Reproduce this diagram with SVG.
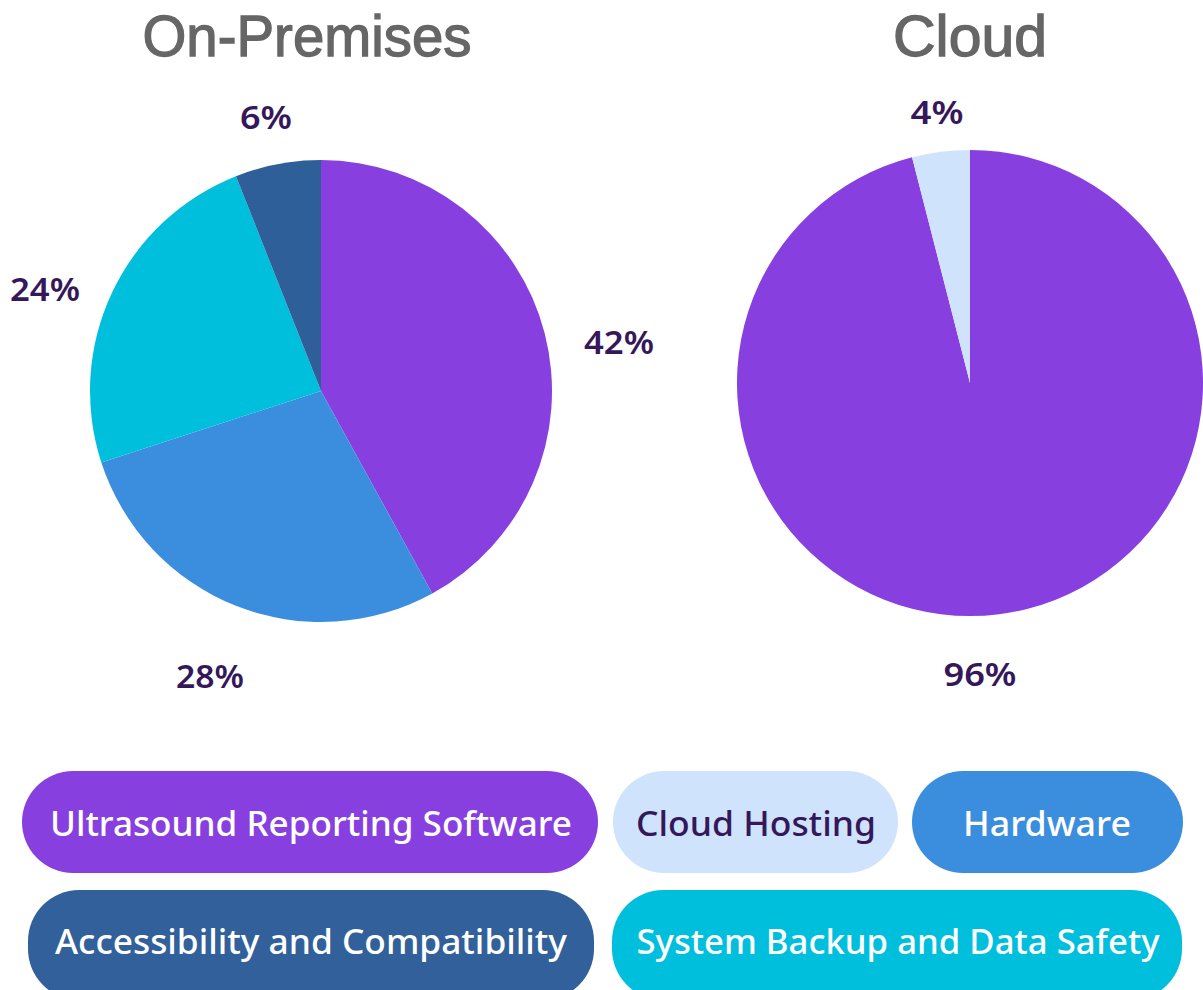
<svg xmlns="http://www.w3.org/2000/svg" width="1203" height="990" viewBox="0 0 1203 990">
<style>
.title{font-family:"Liberation Sans",Arial,sans-serif;font-weight:normal;font-size:57px;fill:#666666;stroke:#666666;stroke-width:1.3px;text-anchor:middle}
.pct{font-family:"Noto Sans","Open Sans",sans-serif;font-weight:600;font-size:32px;fill:#35185A;text-anchor:middle}
.leg{font-family:"Noto Sans","Open Sans",sans-serif;font-weight:500;font-size:34px;fill:#ffffff;text-anchor:middle}
.legd{fill:#35185A}
</style>
<rect width="1203" height="990" fill="#ffffff"/>
<g id="titles">
<text class="title" x="307" y="56" textLength="329" lengthAdjust="spacingAndGlyphs">On-Premises</text>
<text class="title" x="970" y="56" textLength="154" lengthAdjust="spacingAndGlyphs">Cloud</text>
</g>
<g id="pie-onprem">
<path d="M321,391 L321,160 A231,231 0 0 1 432.28,593.43 Z" fill="#8740DF"/>
<path d="M321,391 L432.28,593.43 A231,231 0 0 1 101.31,462.38 Z" fill="#3B8EDD"/>
<path d="M321,391 L101.31,462.38 A231,231 0 0 1 235.96,176.22 Z" fill="#00BFDD"/>
<path d="M321,391 L235.96,176.22 A231,231 0 0 1 321,160 Z" fill="#2F5F98"/>
<text class="pct" x="266" y="129" textLength="52" lengthAdjust="spacingAndGlyphs">6%</text>
<text class="pct" x="45" y="301" textLength="70" lengthAdjust="spacingAndGlyphs">24%</text>
<text class="pct" x="619" y="354" textLength="70" lengthAdjust="spacingAndGlyphs">42%</text>
<text class="pct" x="210" y="688" textLength="68" lengthAdjust="spacingAndGlyphs">28%</text>
</g>
<g id="pie-cloud">
<path d="M970,383 L970,150 A233,233 0 1 1 912.06,157.32 Z" fill="#8740DF"/>
<path d="M970,383 L912.06,157.32 A233,233 0 0 1 970,150 Z" fill="#D0E3FD"/>
<text class="pct" x="937" y="124" textLength="53" lengthAdjust="spacingAndGlyphs">4%</text>
<text class="pct" x="980" y="686" textLength="73" lengthAdjust="spacingAndGlyphs">96%</text>
</g>
<g id="legend-ultrasound">
<rect x="22" y="771" width="576" height="102" rx="51" fill="#8740DF"/>
<text class="leg" x="311" y="836" textLength="522" lengthAdjust="spacingAndGlyphs">Ultrasound Reporting Software</text>
</g>
<g id="legend-cloud">
<rect x="613" y="771" width="285" height="102" rx="51" fill="#D0E3FD"/>
<text class="leg legd" x="756" y="836" textLength="240" lengthAdjust="spacingAndGlyphs">Cloud Hosting</text>
</g>
<g id="legend-hardware">
<rect x="912" y="771" width="271" height="102" rx="51" fill="#3B8EDD"/>
<text class="leg" x="1047" y="836" textLength="168" lengthAdjust="spacingAndGlyphs">Hardware</text>
</g>
<g id="legend-access">
<rect x="28" y="890" width="566" height="110" rx="51" fill="#31609A"/>
<text class="leg" x="311" y="954" textLength="512" lengthAdjust="spacingAndGlyphs">Accessibility and Compatibility</text>
</g>
<g id="legend-backup">
<rect x="612" y="890" width="570" height="110" rx="51" fill="#00BFDD"/>
<text class="leg" x="898" y="954" textLength="523" lengthAdjust="spacingAndGlyphs">System Backup and Data Safety</text>
</g>
</svg>
